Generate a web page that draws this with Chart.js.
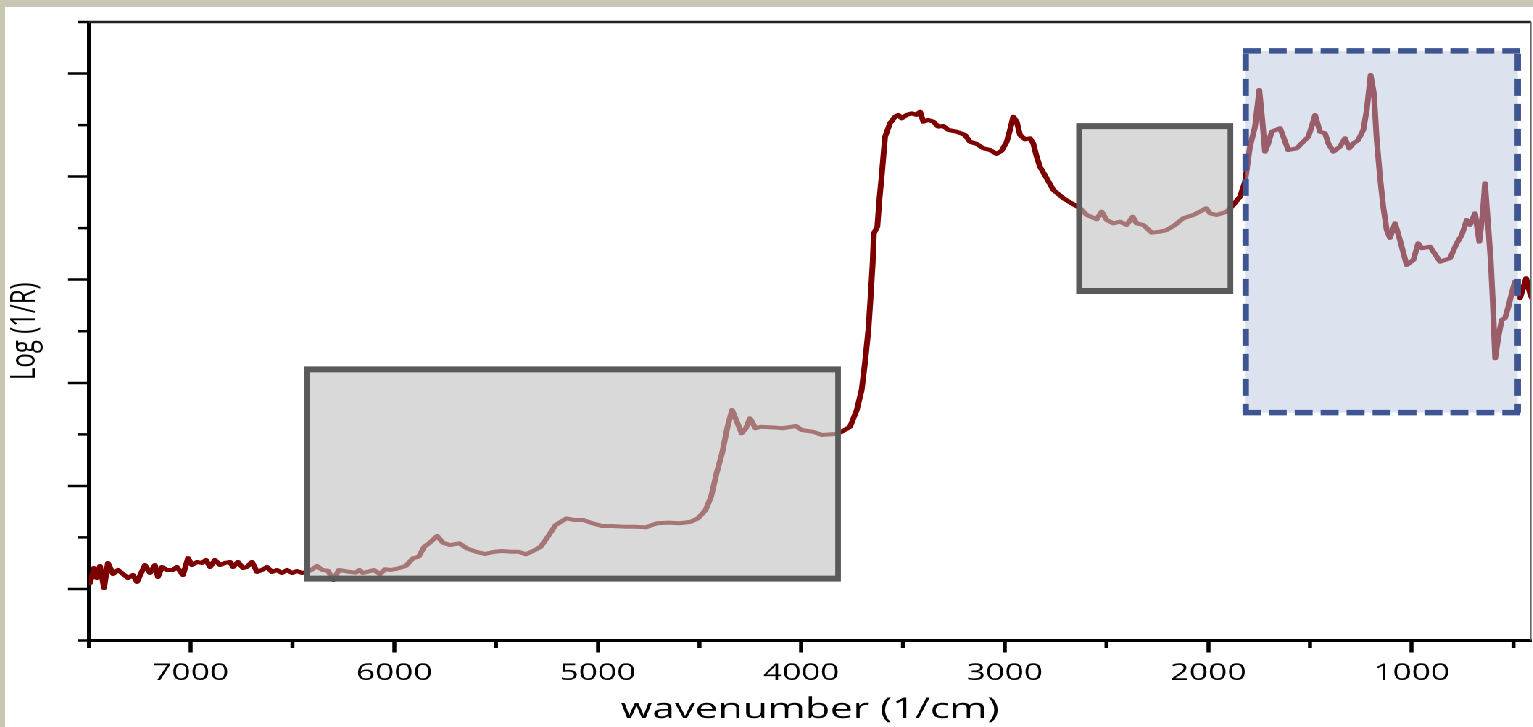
<!DOCTYPE html>
<html>
<head>
    <title>Log (1/R) spectrum</title>
    <style>
        body {
            margin: 0;
            background: #c9c7b1;
            overflow: hidden;
        }
        /* the reference is stretched sideways, so the whole sheet is too */
        .sheet {
            position: absolute;
            left: 5px;
            top: 7px;
            width: 1054px;
            height: 720px;
            background: white;
            transform: scaleX(1.45);
            transform-origin: 0 0;
        }
    </style>
</head>
<body>
    <div class="sheet"><canvas id="spectrum" width="1054" height="720"></canvas></div>

    <script src="https://cdn.jsdelivr.net/npm/chart.js"></script>
    <script>
        // spectrum (wavenumber in 1/cm, log(1/R) in arbitrary units)
        const wavenumber = [
            7495, 7475, 7461, 7446, 7426, 7407, 7382, 7357, 7333, 7308, 7284, 7264, 7225, 7200, 7176, 7161,
            7141, 7117, 7087, 7068, 7038, 7013, 6994, 6969, 6945, 6925, 6905, 6881, 6856, 6832, 6807, 6792,
            6768, 6743, 6724, 6699, 6674, 6650, 6625, 6601, 6576, 6552, 6527, 6502, 6478, 6453, 6429,
            6407, 6380, 6353, 6326, 6298, 6272, 6225, 6189, 6171, 6154, 6100, 6070, 6045, 6016, 5980, 5943,
            5908, 5880, 5852, 5825, 5789, 5761, 5726, 5680, 5643, 5598, 5554, 5507, 5470, 5426, 5389, 5353,
            5308, 5280, 5245, 5207, 5181, 5153, 5117, 5071, 5025, 4980, 4925, 4871, 4817, 4763, 4709, 4652,
            4598, 4543, 4507, 4470, 4443, 4416, 4389, 4362, 4340, 4316, 4293, 4272, 4252, 4225, 4198, 4144,
            4090, 4026, 3998, 3944, 3898, 3834, 3800,
            3760, 3727, 3703, 3687, 3670, 3659, 3649, 3643, 3626, 3616, 3605, 3588, 3564, 3539, 3523, 3506,
            3482, 3457, 3433, 3416, 3400, 3376, 3351, 3327, 3302, 3277, 3236, 3195, 3171, 3138, 3105, 3072,
            3040, 3015, 2990, 2974, 2958, 2941, 2925, 2900, 2876, 2860, 2843, 2827, 2794, 2761, 2712, 2671,
            2630, 2597, 2548, 2524, 2499, 2466, 2434, 2401, 2371, 2352, 2319, 2278, 2237, 2204, 2163, 2123,
            2073, 2041, 2011, 1991, 1958, 1909, 1877, 1844, 1819, 1795, 1770, 1749, 1733, 1721, 1705, 1688,
            1647, 1631, 1607, 1565, 1541, 1508, 1492, 1475, 1451, 1426, 1410, 1385, 1353, 1328, 1307, 1287,
            1263, 1238, 1221, 1202, 1186, 1172, 1156, 1140, 1123, 1107, 1082, 1058, 1025, 992, 968, 951,
            910, 861, 812, 779, 754, 730, 714, 689, 668, 651, 640, 624, 612, 602, 590, 574,
            558, 542, 525, 509, 493, 468, 438, 419, 405
        ];
        const logR = [
            0.558, 0.703, 0.606, 0.723, 0.509, 0.752, 0.645, 0.684, 0.645, 0.606, 0.635, 0.568, 0.732, 0.655, 0.732, 0.616,
            0.713, 0.684, 0.684, 0.713, 0.635, 0.800, 0.732, 0.762, 0.752, 0.781, 0.713, 0.781, 0.732, 0.752, 0.762, 0.713,
            0.762, 0.703, 0.713, 0.762, 0.665, 0.684, 0.713, 0.665, 0.684, 0.655, 0.684, 0.655, 0.674, 0.655, 0.665,
            0.684, 0.723, 0.684, 0.677, 0.587, 0.684, 0.667, 0.658, 0.684, 0.655, 0.684, 0.645, 0.691, 0.684, 0.700, 0.723,
            0.797, 0.813, 0.910, 0.949, 1.014, 0.949, 0.926, 0.943, 0.894, 0.861, 0.839, 0.861, 0.868, 0.861, 0.861, 0.836,
            0.878, 0.910, 1.007, 1.120, 1.152, 1.185, 1.169, 1.169, 1.137, 1.111, 1.111, 1.104, 1.104, 1.098, 1.137, 1.143,
            1.137, 1.152, 1.185, 1.266, 1.395, 1.622, 1.816, 2.074, 2.236, 2.123, 2.010, 2.059, 2.156, 2.059, 2.074, 2.068,
            2.059, 2.081, 2.042, 2.026, 1.994, 2.003, 2.026,
            2.074, 2.236, 2.430, 2.689, 3.012, 3.335, 3.659, 3.950, 4.014, 4.273, 4.499, 4.887, 5.017, 5.081, 5.098, 5.066,
            5.098, 5.114, 5.098, 5.130, 5.033, 5.050, 5.033, 4.985, 4.991, 4.953, 4.936, 4.904, 4.839, 4.817, 4.775, 4.758,
            4.720, 4.752, 4.839, 4.953, 5.081, 5.033, 4.904, 4.862, 4.872, 4.823, 4.693, 4.596, 4.484, 4.370, 4.290, 4.241,
            4.193, 4.128, 4.086, 4.160, 4.079, 4.047, 4.063, 4.031, 4.111, 4.047, 4.031, 3.956, 3.966, 3.982, 4.031, 4.096,
            4.128, 4.160, 4.193, 4.144, 4.128, 4.160, 4.225, 4.305, 4.451, 4.790, 4.985, 5.340, 5.017, 4.742, 4.823, 4.936,
            4.969, 4.887, 4.758, 4.775, 4.823, 4.887, 4.985, 5.098, 4.936, 4.920, 4.823, 4.742, 4.790, 4.872, 4.775, 4.823,
            4.855, 4.953, 5.146, 5.486, 5.308, 4.855, 4.499, 4.208, 3.982, 3.905, 4.047, 3.885, 3.643, 3.691, 3.853, 3.805,
            3.820, 3.675, 3.708, 3.853, 3.934, 4.079, 4.031, 4.144, 3.869, 4.144, 4.435, 4.014, 3.691, 3.303, 2.738, 2.947,
            3.109, 3.126, 3.238, 3.368, 3.481, 3.320, 3.514, 3.368, 3.300
        ];

        // axis ticks
        const xMajorTicks = [7000, 6000, 5000, 4000, 3000, 2000, 1000];
        const xMinorTicks = [7500, 6500, 5500, 4500, 3500, 2500, 1500, 500];
        const yMajorTicks = [0.5, 1.5, 2.5, 3.5, 4.5, 5.5];
        const yMinorTicks = [0, 1, 2, 3, 4, 5, 6];

        // highlighted regions, in data units
        const greyRegions = [
            { from: 6429, to: 3819, low: 0.60, high: 2.63 },
            { from: 2635, to: 1891, low: 3.39, high: 4.99 }
        ];
        const blueRegion = { from: 1816, to: 479, low: 2.21, high: 5.72 };

        const decorations = {
            id: 'decorations',
            afterDatasetsDraw(chart) {
                const { ctx, scales: { x, y } } = chart;

                greyRegions.forEach(r => {
                    const l = x.getPixelForValue(r.from), rt = x.getPixelForValue(r.to);
                    const t = y.getPixelForValue(r.high), b = y.getPixelForValue(r.low);
                    ctx.save();
                    ctx.fillStyle = 'rgba(193, 193, 193, 0.61)';
                    ctx.fillRect(l, t, rt - l, b - t);
                    // frame: thinner on the sides because the sheet is stretched
                    const hx = 1.95, hy = 3;
                    ctx.beginPath();
                    ctx.rect(l - hx, t - hy, rt - l + 2 * hx, b - t + 2 * hy);
                    ctx.rect(l + hx, t + hy, rt - l - 2 * hx, b - t - 2 * hy);
                    ctx.fillStyle = '#5a5a5a';
                    ctx.fill('evenodd');
                    ctx.restore();
                });

                const l = x.getPixelForValue(blueRegion.from), rt = x.getPixelForValue(blueRegion.to);
                const t = y.getPixelForValue(blueRegion.high), b = y.getPixelForValue(blueRegion.low);
                ctx.save();
                ctx.fillStyle = 'rgba(184, 197, 219, 0.48)';
                ctx.fillRect(l, t, rt - l, b - t);
                ctx.strokeStyle = '#3d5590';
                ctx.lineCap = 'butt';
                // top and bottom
                ctx.lineWidth = 5.5;
                ctx.setLineDash([12.4, 5.5]);
                ctx.beginPath();
                ctx.moveTo(l - 2, t); ctx.lineTo(rt + 2, t);
                ctx.moveTo(l - 2, b); ctx.lineTo(rt + 2, b);
                ctx.stroke();
                // left and right
                ctx.lineWidth = 4.4;
                ctx.setLineDash([17, 8]);
                ctx.beginPath();
                ctx.moveTo(l, t + 3); ctx.lineTo(l, b);
                ctx.moveTo(rt, t + 3); ctx.lineTo(rt, b);
                ctx.stroke();
                ctx.restore();
            },
            afterDraw(chart) {
                const { ctx, chartArea: area, scales: { x, y } } = chart;
                ctx.save();
                ctx.strokeStyle = '#000';
                // minor ticks
                ctx.lineWidth = 2.75;
                ctx.beginPath();
                xMinorTicks.forEach(v => {
                    const px = x.getPixelForValue(v);
                    ctx.moveTo(px, area.bottom);
                    ctx.lineTo(px, area.bottom + 7.5);
                });
                ctx.stroke();
                ctx.lineWidth = 2.5;
                ctx.beginPath();
                yMinorTicks.forEach(v => {
                    const py = y.getPixelForValue(v);
                    ctx.moveTo(area.left - 7.6, py);
                    ctx.lineTo(area.left, py);
                });
                ctx.stroke();
                // frame on top and right
                ctx.strokeStyle = '#222';
                ctx.lineWidth = 2.5;
                ctx.beginPath();
                ctx.moveTo(area.left, area.top);
                ctx.lineTo(area.right, area.top);
                ctx.stroke();
                ctx.strokeStyle = '#666';
                ctx.lineWidth = 0.8;
                ctx.beginPath();
                ctx.moveTo(area.right, area.top);
                ctx.lineTo(area.right, area.bottom);
                ctx.stroke();
                ctx.restore();
            }
        };

        new Chart(document.getElementById('spectrum'), {
            type: 'line',
            data: {
                datasets: [{
                    data: wavenumber.map((w, i) => ({ x: w, y: logR[i] })),
                    borderColor: '#7d0000',
                    borderWidth: 4,
                    pointRadius: 0,
                    tension: 0,
                    borderJoinStyle: 'round',
                    borderCapStyle: 'round'
                }]
            },
            options: {
                responsive: false,
                animation: false,
                devicePixelRatio: 2,
                layout: { padding: { top: 15, right: 1.6, left: 0, bottom: 0 } },
                plugins: {
                    legend: { display: false },
                    tooltip: { enabled: false }
                },
                scales: {
                    x: {
                        type: 'linear',
                        reverse: true,
                        min: 414,
                        max: 7500,
                        afterBuildTicks: s => { s.ticks = xMajorTicks.map(v => ({ value: v })); },
                        afterFit: s => { s.height = 86.5; },
                        grid: {
                            display: true,
                            drawOnChartArea: false,
                            drawTicks: true,
                            tickLength: 12,
                            tickWidth: 2.75,
                            tickColor: '#000'
                        },
                        border: { display: true, color: '#000', width: 3 },
                        ticks: {
                            color: '#000',
                            padding: 7,
                            maxRotation: 0,
                            autoSkip: false,
                            font: { family: 'Open Sans', size: 23, lineHeight: 1.2 },
                            callback: v => String(v)
                        },
                        title: {
                            display: true,
                            text: 'wavenumber (1/cm)',
                            color: '#000',
                            font: { family: 'Open Sans', size: 28, lineHeight: 1.2 },
                            padding: { top: 0, bottom: 0.2 }
                        }
                    },
                    y: {
                        min: 0,
                        max: 6,
                        afterBuildTicks: s => { s.ticks = yMajorTicks.map(v => ({ value: v })); },
                        afterFit: s => { s.width = 57.9; },
                        grid: {
                            display: true,
                            drawOnChartArea: false,
                            drawTicks: true,
                            tickLength: 14.5,
                            tickWidth: 2.5,
                            tickColor: '#000'
                        },
                        border: { display: true, color: '#000', width: 2.5 },
                        ticks: { display: false },
                        title: {
                            display: true,
                            text: 'Log (1/R)',
                            color: '#000',
                            font: { family: 'Open Sans', size: 24, lineHeight: 1.1 },
                            padding: { top: 0.6, bottom: 0 }
                        }
                    }
                }
            },
            plugins: [decorations]
        });
    </script>
</body>
</html>
